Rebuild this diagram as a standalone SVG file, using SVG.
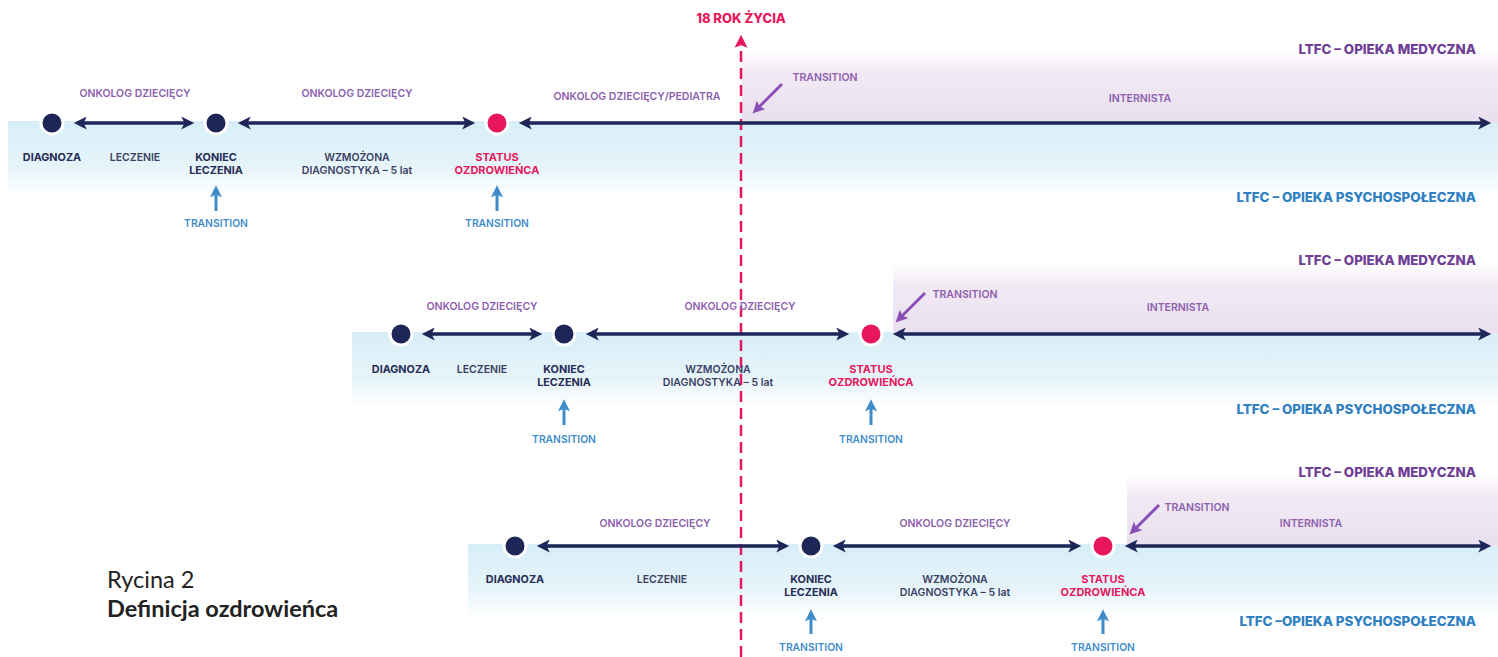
<svg xmlns="http://www.w3.org/2000/svg" width="1498" height="657" viewBox="0 0 1498 657">
<style>
text{font-family:Inter,"Open Sans","Liberation Sans",sans-serif;text-anchor:middle}
.lbl{font-size:10.8px;font-weight:700;fill:#262c55}
.mid{font-size:10.5px;font-weight:600;fill:#3a3f62}
.pur{font-size:10.5px;font-weight:600;fill:#8d5fae}
.red{font-size:11px;font-weight:700;fill:#e6195b}
.bt{font-size:10.3px;font-weight:600;fill:#3f8ccb}
.ltm{font-size:13.3px;font-weight:800;fill:#6e3e96;text-anchor:end}
.ltp{font-size:13.3px;font-weight:800;fill:#2e80c2;text-anchor:end}
.axis{stroke:#1e2657;stroke-width:3.5;fill:none;marker-start:url(#ah);marker-end:url(#ah)}
.up{stroke:#3f8ccb;stroke-width:3;marker-end:url(#bh)}
.pa{stroke:#8a4fb5;stroke-width:3;marker-end:url(#ph)}
.dot{fill:#1e2657;stroke:#fff;stroke-width:3}
.pdot{fill:#e8175d;stroke:#fff;stroke-width:3}
.cap{font-family:Lato,"Liberation Sans",sans-serif;font-size:23.5px;fill:#222;text-anchor:start}
</style>
<defs>
<marker id="ah" viewBox="0 0 10 10" refX="6" refY="5" markerWidth="15" markerHeight="13" markerUnits="userSpaceOnUse" orient="auto-start-reverse"><path d="M0,0 L10,5 L0,10 L2.5,5 z" fill="#1e2657"/></marker>
<marker id="bh" viewBox="0 0 10 10" refX="6" refY="5" markerWidth="13" markerHeight="12" markerUnits="userSpaceOnUse" orient="auto"><path d="M0,0 L10,5 L0,10 L2,5 z" fill="#3f8ccb"/></marker>
<marker id="ph" viewBox="0 0 10 10" refX="6" refY="5" markerWidth="13" markerHeight="12" markerUnits="userSpaceOnUse" orient="auto"><path d="M0,0 L10,5 L0,10 L2,5 z" fill="#8a4fb5"/></marker>
<marker id="rh" viewBox="0 0 10 10" refX="6" refY="5" markerWidth="14" markerHeight="13" markerUnits="userSpaceOnUse" orient="auto"><path d="M0,0 L10,5 L0,10 L2,5 z" fill="#e8175d"/></marker>
<linearGradient id="gb" x1="0" y1="0" x2="0" y2="1"><stop offset="0" stop-color="#d7eef8"/><stop offset="0.6" stop-color="#e6f4fa"/><stop offset="1" stop-color="#ffffff"/></linearGradient>
<linearGradient id="gp" x1="0" y1="1" x2="0" y2="0"><stop offset="0" stop-color="#e9dfef"/><stop offset="0.7" stop-color="#f1eaf4"/><stop offset="1" stop-color="#ffffff"/></linearGradient>
</defs>
<rect width="1498" height="657" fill="#fff"/>
<g id="bands">
<rect x="8" y="121" width="1490" height="76" fill="url(#gb)"/>
<rect x="742" y="50" width="756" height="73" fill="url(#gp)"/>
<rect x="352" y="332" width="1146" height="76" fill="url(#gb)"/>
<rect x="893" y="264" width="605" height="70" fill="url(#gp)"/>
<rect x="468" y="544" width="1030" height="74" fill="url(#gb)"/>
<rect x="1127" y="474" width="371" height="72" fill="url(#gp)"/>
</g>
<g id="age18">
<line x1="741" y1="657" x2="741" y2="40" stroke="#e8175d" stroke-width="2.5" stroke-dasharray="11 6" marker-end="url(#rh)"/>
<text x="741" y="23" style="font-size:13px;font-weight:800;fill:#e6195b">18 ROK ŻYCIA</text>
</g>
<g id="connectors">
<line class="axis" x1="79" y1="123" x2="189" y2="123"/>
<line class="axis" x1="243" y1="123" x2="470" y2="123"/>
<line class="axis" x1="524" y1="123" x2="1486" y2="123"/>
<line class="axis" x1="427" y1="334" x2="537" y2="334"/>
<line class="axis" x1="591" y1="334" x2="844" y2="334"/>
<line class="axis" x1="898" y1="334" x2="1486" y2="334"/>
<line class="axis" x1="542" y1="546" x2="784" y2="546"/>
<line class="axis" x1="838" y1="546" x2="1076" y2="546"/>
<line class="axis" x1="1130" y1="546" x2="1486" y2="546"/>
<line class="up" x1="216" y1="211" x2="216" y2="190"/>
<line class="up" x1="497" y1="211" x2="497" y2="190"/>
<line class="up" x1="564" y1="425" x2="564" y2="404"/>
<line class="up" x1="871" y1="425" x2="871" y2="404"/>
<line class="up" x1="811" y1="634" x2="811" y2="614"/>
<line class="up" x1="1103" y1="634" x2="1103" y2="614"/>
<line class="pa" x1="782" y1="84" x2="756" y2="110"/>
<line class="pa" x1="925" y1="293" x2="899" y2="319"/>
<line class="pa" x1="1159" y1="505" x2="1133" y2="531"/>
</g>
<g id="row1">
<g id="r1-diagnoza"><circle class="dot" cx="52" cy="123" r="11"/><text class="lbl" x="52" y="161">DIAGNOZA</text></g>
<g id="r1-koniec"><circle class="dot" cx="216" cy="123" r="11"/><text class="lbl" x="216" y="161">KONIEC</text><text class="lbl" x="216" y="174">LECZENIA</text><text class="bt" x="216" y="227">TRANSITION</text></g>
<g id="r1-status"><circle class="pdot" cx="497" cy="123" r="11"/><text class="red" x="497" y="161">STATUS</text><text class="red" x="497" y="174">OZDROWIEŃCA</text><text class="bt" x="497" y="227">TRANSITION</text></g>
<text class="pur" x="135" y="97">ONKOLOG DZIECIĘCY</text>
<text class="mid" x="135" y="161">LECZENIE</text>
<text class="pur" x="357" y="97">ONKOLOG  DZIECIĘCY</text>
<text class="mid" x="357" y="161">WZMOŻONA</text>
<text class="mid" x="357" y="174">DIAGNOSTYKA – 5 lat</text>
<text class="pur" x="637" y="100">ONKOLOG DZIECIĘCY/PEDIATRA</text>
<text class="pur" x="825" y="81">TRANSITION</text>
<text class="pur" x="1140" y="102">INTERNISTA</text>
<text class="ltm" x="1476" y="54">LTFC – OPIEKA MEDYCZNA</text>
<text class="ltp" x="1476" y="202">LTFC – OPIEKA PSYCHOSPOŁECZNA</text>
</g>
<g id="row2">
<g id="r2-diagnoza"><circle class="dot" cx="401" cy="334" r="11"/><text class="lbl" x="401" y="373">DIAGNOZA</text></g>
<g id="r2-koniec"><circle class="dot" cx="564" cy="334" r="11"/><text class="lbl" x="564" y="373">KONIEC</text><text class="lbl" x="564" y="386">LECZENIA</text><text class="bt" x="564" y="443">TRANSITION</text></g>
<g id="r2-status"><circle class="pdot" cx="871" cy="334" r="11"/><text class="red" x="871" y="373">STATUS</text><text class="red" x="871" y="386">OZDROWIEŃCA</text><text class="bt" x="871" y="443">TRANSITION</text></g>
<text class="pur" x="482" y="310">ONKOLOG DZIECIĘCY</text>
<text class="mid" x="482" y="373">LECZENIE</text>
<text class="pur" x="740" y="310">ONKOLOG  DZIECIĘCY</text>
<text class="mid" x="718" y="373">WZMOŻONA</text>
<text class="mid" x="718" y="386">DIAGNOSTYKA – 5 lat</text>
<text class="pur" x="965" y="298">TRANSITION</text>
<text class="pur" x="1178" y="311">INTERNISTA</text>
<text class="ltm" x="1476" y="265">LTFC – OPIEKA MEDYCZNA</text>
<text class="ltp" x="1476" y="414">LTFC – OPIEKA PSYCHOSPOŁECZNA</text>
</g>
<g id="row3">
<g id="r3-diagnoza"><circle class="dot" cx="515" cy="546" r="11"/><text class="lbl" x="515" y="583">DIAGNOZA</text></g>
<g id="r3-koniec"><circle class="dot" cx="811" cy="546" r="11"/><text class="lbl" x="811" y="583">KONIEC</text><text class="lbl" x="811" y="596">LECZENIA</text><text class="bt" x="811" y="651">TRANSITION</text></g>
<g id="r3-status"><circle class="pdot" cx="1103" cy="546" r="11"/><text class="red" x="1103" y="583">STATUS</text><text class="red" x="1103" y="596">OZDROWIEŃCA</text><text class="bt" x="1103" y="651">TRANSITION</text></g>
<text class="pur" x="655" y="527">ONKOLOG DZIECIĘCY</text>
<text class="mid" x="662" y="583">LECZENIE</text>
<text class="pur" x="955" y="527">ONKOLOG DZIECIĘCY</text>
<text class="mid" x="955" y="583">WZMOŻONA</text>
<text class="mid" x="955" y="596">DIAGNOSTYKA – 5 lat</text>
<text class="pur" x="1197" y="511">TRANSITION</text>
<text class="pur" x="1311" y="527">INTERNISTA</text>
<text class="ltm" x="1476" y="477">LTFC – OPIEKA MEDYCZNA</text>
<text class="ltp" x="1476" y="626">LTFC –OPIEKA PSYCHOSPOŁECZNA</text>
</g>
<g id="caption">
<text class="cap" x="107" y="588">Rycina 2</text>
<text class="cap" x="107" y="617" style="font-weight:700">Definicja ozdrowieńca</text>
</g>
</svg>
